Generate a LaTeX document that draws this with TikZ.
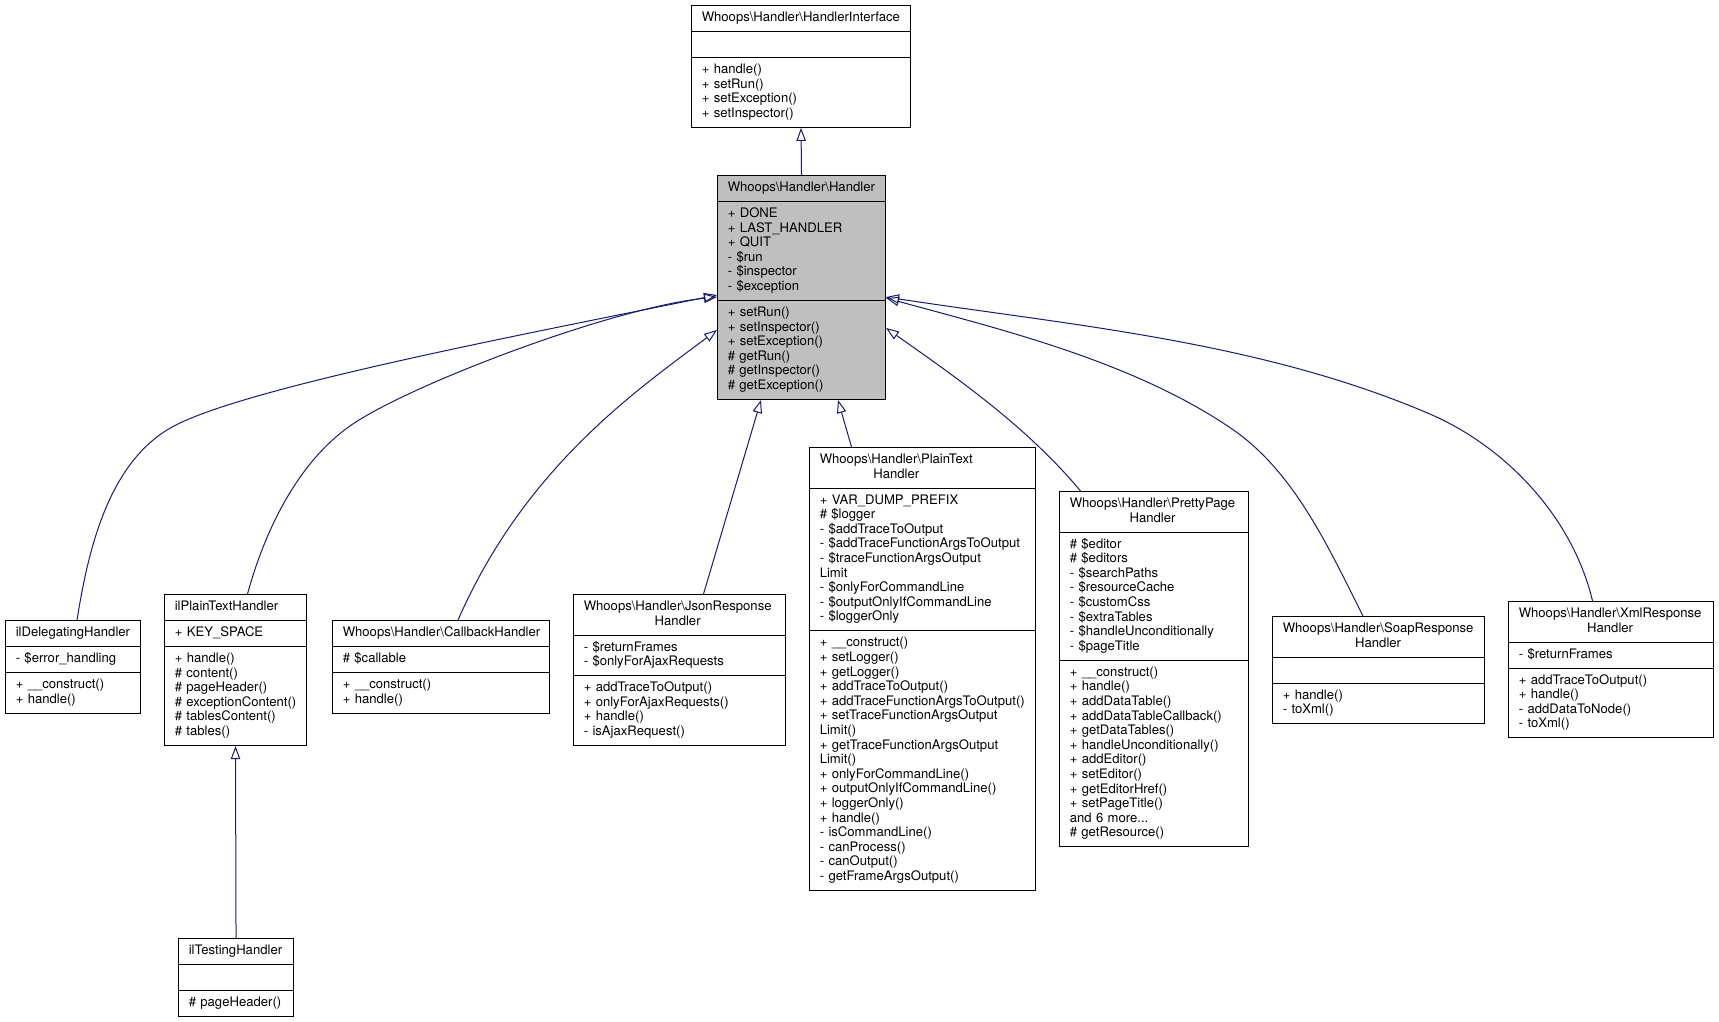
\documentclass[tikz,border=0pt]{standalone}
\usepackage{fontspec}
\setmainfont{TeX Gyre Heros}
\usetikzlibrary{shapes.multipart,arrows.meta,calc}

\definecolor{edgeblue}{HTML}{191970}
\definecolor{grey75}{HTML}{BFBFBF}

\newcommand{\classfont}{\fontsize{9.83pt}{10.95pt}\selectfont}
\newcommand{\umltitle}[1]{\centering\begin{tabular}{@{}c@{}}#1\end{tabular}}
\newcommand{\umlpart}[1]{\begin{tabular}{@{}l@{}}#1\end{tabular}}
\newcommand{\bs}{\textbackslash}

\tikzset{
  umlclass/.style={rectangle split, rectangle split parts=3, draw=black, line width=0.75pt,
    fill=white, anchor=north west, inner xsep=7.7pt, inner ysep=3.9pt, align=left, font=\classfont},
  inherit/.style={edgeblue, line width=0.75pt, -{Triangle[open,length=9.75pt,width=7pt]}}
}

\begin{document}
\begin{tikzpicture}[x=0.75pt, y=-0.75pt]
    \useasboundingbox (0,0) rectangle (1719,1021);

    % Define the classes
    \node[umlclass, text width=148.9pt] (iface) at (691,5)
        {\umltitle{Whoops\bs Handler\bs HandlerInterface}
         \nodepart{two}\umlpart{\strut}
         \nodepart{three}\umlpart{+ handle()\\ + setRun()\\ + setException()\\ + setInspector()}};
    \node[umlclass, fill=grey75, text width=110.6pt] (handler) at (717,175)
        {\umltitle{Whoops\bs Handler\bs Handler}
         \nodepart{two}\umlpart{+ DONE\\ + LAST\_HANDLER\\ + QUIT\\ - \$run\\ - \$inspector\\ - \$exception}
         \nodepart{three}\umlpart{+ setRun()\\ + setInspector()\\ + setException()\\ \# getRun()\\ \# getInspector()\\ \# getException()}};
    \node[umlclass, text width=85.9pt] (deleg) at (5,620)
        {\umltitle{ilDelegatingHandler}
         \nodepart{two}\umlpart{- \$error\_handling}
         \nodepart{three}\umlpart{+ \_\_construct()\\ + handle()}};
    \node[umlclass, text width=91.1pt] (pth) at (164,594)
        {\umltitle{ilPlainTextHandler}
         \nodepart{two}\umlpart{+ KEY\_SPACE}
         \nodepart{three}\umlpart{+ handle()\\ \# content()\\ \# pageHeader()\\ \# exceptionContent()\\ \# tablesContent()\\ \# tables()}};
    \node[umlclass, text width=70.9pt] (testing) at (178,938)
        {\umltitle{ilTestingHandler}
         \nodepart{two}\umlpart{\strut}
         \nodepart{three}\umlpart{\# pageHeader()}};
    \node[umlclass, text width=147.4pt] (callback) at (332,620)
        {\umltitle{Whoops\bs Handler\bs CallbackHandler}
         \nodepart{two}\umlpart{\# \$callable}
         \nodepart{three}\umlpart{+ \_\_construct()\\ + handle()}};
    \node[umlclass, text width=143.6pt] (json) at (573,594)
        {\umltitle{Whoops\bs Handler\bs JsonResponse\\ Handler}
         \nodepart{two}\umlpart{- \$returnFrames\\ - \$onlyForAjaxRequests}
         \nodepart{three}\umlpart{+ addTraceToOutput()\\ + onlyForAjaxRequests()\\ + handle()\\ - isAjaxRequest()}};
    \node[umlclass, text width=154.1pt] (plaintext) at (809,447)
        {\umltitle{Whoops\bs Handler\bs PlainText\\ Handler}
         \nodepart{two}\umlpart{+ VAR\_DUMP\_PREFIX\\ \# \$logger\\ - \$addTraceToOutput\\ - \$addTraceFunctionArgsToOutput\\ - \$traceFunctionArgsOutput\\ Limit\\ - \$onlyForCommandLine\\ - \$outputOnlyIfCommandLine\\ - \$loggerOnly}
         \nodepart{three}\umlpart{+ \_\_construct()\\ + setLogger()\\ + getLogger()\\ + addTraceToOutput()\\ + addTraceFunctionArgsToOutput()\\ + setTraceFunctionArgsOutput\\ Limit()\\ + getTraceFunctionArgsOutput\\ Limit()\\ + onlyForCommandLine()\\ + outputOnlyIfCommandLine()\\ + loggerOnly()\\ + handle()\\ - isCommandLine()\\ - canProcess()\\ - canOutput()\\ - getFrameArgsOutput()}};
    \node[umlclass, text width=126.4pt] (pretty) at (1059,491)
        {\umltitle{Whoops\bs Handler\bs PrettyPage\\ Handler}
         \nodepart{two}\umlpart{\# \$editor\\ \# \$editors\\ - \$searchPaths\\ - \$resourceCache\\ - \$customCss\\ - \$extraTables\\ - \$handleUnconditionally\\ - \$pageTitle}
         \nodepart{three}\umlpart{+ \_\_construct()\\ + handle()\\ + addDataTable()\\ + addDataTableCallback()\\ + getDataTables()\\ + handleUnconditionally()\\ + addEditor()\\ + setEditor()\\ + getEditorHref()\\ + setPageTitle()\\ and 6 more...\\ \# getResource()}};
    \node[umlclass, text width=143.6pt] (soap) at (1272,616)
        {\umltitle{Whoops\bs Handler\bs SoapResponse\\ Handler}
         \nodepart{two}\umlpart{\strut}
         \nodepart{three}\umlpart{+ handle()\\ - toXml()}};
    \node[umlclass, text width=138.4pt] (xml) at (1508,601)
        {\umltitle{Whoops\bs Handler\bs XmlResponse\\ Handler}
         \nodepart{two}\umlpart{- \$returnFrames}
         \nodepart{three}\umlpart{+ addTraceToOutput()\\ + handle()\\ - addDataToNode()\\ - toXml()}};

    % Straight inheritance edges
    \draw[inherit] (handler.north) -- (iface.south);
    \draw[inherit] (testing.north) -- (pth.south);
    \draw[inherit] ($(json.north)+(24,0)$) -- ($(handler.south west)+(44,0)$);
    \draw[inherit] ($(plaintext.north)+(-71,0)$) -- ($(handler.south west)+(121,0)$);

    % Curved edges into the left side
    \draw[inherit] ($(deleg.north)+(4,0)$) .. controls (88,551) and (107.5,467) .. (167,430)
        .. controls (230,390) and (521,335) .. ($(handler.north west)+(0,120)$);
    \draw[inherit] ($(pth.north)+(12,0)$) .. controls (265.6,528) and (300.4,456) .. (359,420)
        .. controls (427,378) and (617.5,307) .. ($(handler.north west)+(0,122)$);
    \draw[inherit] ($(callback.north)+(17,0)$) .. controls (525,467) and (637,390) .. ($(handler.north west)+(0,155)$);

    % Curved edges into the right side
    \draw[inherit] ($(pretty.north)+(-73.5,0)$) .. controls (1026,425.5) and (954,376) .. ($(handler.north east)+(0,153)$);
    \draw[inherit] ($(soap.north)+(-15.5,0)$) .. controls (1329,548.5) and (1295,473) .. (1233.5,430)
        .. controls (1135,362) and (1003,330) .. ($(handler.north east)+(0,123)$);
    \draw[inherit] ($(xml.north)+(-18.5,0)$) .. controls (1572,515) and (1503.5,445) .. (1427.5,413)
        .. controls (1258.5,341) and (1069,325) .. ($(handler.north east)+(0,122)$);
\end{tikzpicture}
\end{document}
